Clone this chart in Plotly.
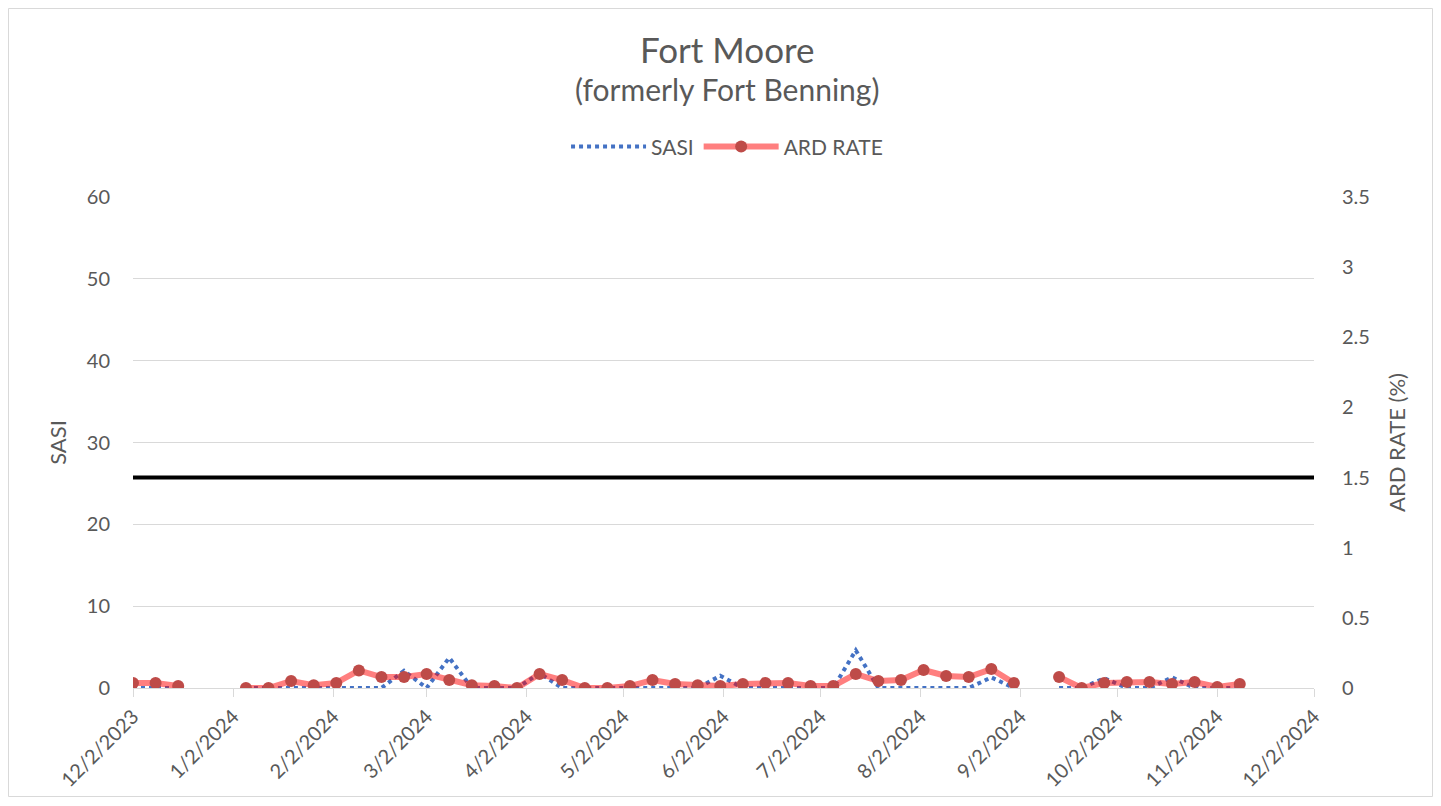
import plotly.graph_objects as go

# ---- data ----
dates = ["2023-12-02", "2023-12-09", "2023-12-16", "2023-12-23", "2023-12-30",
         "2024-01-06", "2024-01-13", "2024-01-20", "2024-01-27", "2024-02-03",
         "2024-02-10", "2024-02-17", "2024-02-24", "2024-03-02", "2024-03-09",
         "2024-03-16", "2024-03-23", "2024-03-30", "2024-04-06", "2024-04-13",
         "2024-04-20", "2024-04-27", "2024-05-04", "2024-05-11", "2024-05-18",
         "2024-05-25", "2024-06-01", "2024-06-08", "2024-06-15", "2024-06-22",
         "2024-06-29", "2024-07-06", "2024-07-13", "2024-07-20", "2024-07-27",
         "2024-08-03", "2024-08-10", "2024-08-17", "2024-08-24", "2024-08-31",
         "2024-09-07", "2024-09-14", "2024-09-21", "2024-09-28", "2024-10-05",
         "2024-10-12", "2024-10-19", "2024-10-26", "2024-11-02", "2024-11-09"]

sasi = [0, 0, 0, None, None,
        0, 0, 0, 0, 0,
        0, 0, 2.1, 0, 3.7,
        0, 0, 0, 1.8, 0,
        0, 0, 0, 0, 0,
        0, 1.5, 0, 0, 0,
        0, 0, 4.6, 0, 0,
        0, 0, 0, 1.3, 0,
        None, 0, 0, 1.2, 0,
        0, 1.3, 0, 0, 0]

ard_rate = [0.036, 0.036, 0.014, None, None,
            0, 0, 0.05, 0.02, 0.036,
            0.125, 0.078, 0.078, 0.1, 0.057,
            0.02, 0.014, 0, 0.1, 0.057,
            0, 0, 0.014, 0.057, 0.028,
            0.02, 0.014, 0.028, 0.036, 0.036,
            0.014, 0.014, 0.1, 0.05, 0.057,
            0.128, 0.086, 0.078, 0.135, 0.036,
            None, 0.078, 0, 0.036, 0.043,
            0.043, 0.028, 0.043, 0.007, 0.028]

ard_threshold = 1.5

tick_dates = ["2023-12-02", "2024-01-02", "2024-02-02", "2024-03-02", "2024-04-02",
              "2024-05-02", "2024-06-02", "2024-07-02", "2024-08-02", "2024-09-02",
              "2024-10-02", "2024-11-02", "2024-12-02"]
tick_labels = ["12/2/2023", "1/2/2024", "2/2/2024", "3/2/2024", "4/2/2024",
               "5/2/2024", "6/2/2024", "7/2/2024", "8/2/2024", "9/2/2024",
               "10/2/2024", "11/2/2024", "12/2/2024"]

title = "Fort Moore"
subtitle = "(formerly Fort Benning)"

# ---- figure ----
FONT = "Lato"
GREY = "#595959"
GRID = "#d9d9d9"

W, H = 1425, 790
L, T, PW, PH = 125, 189, 1181, 491

fig = go.Figure()

fig.add_trace(go.Scatter(
    x=dates, y=sasi, name="SASI", mode="lines", yaxis="y",
    line=dict(color="#4472C4", width=4, dash="4px,4px"),
    connectgaps=False,
))

fig.add_trace(go.Scatter(
    x=dates, y=ard_rate, name="ARD RATE", mode="lines+markers", yaxis="y2",
    line=dict(color="rgba(255,0,0,0.5)", width=6),
    marker=dict(color="#BE4B48", size=12),
    connectgaps=False,
))

# threshold line on ARD axis
fig.add_shape(type="line", xref="paper", x0=0, x1=1, yref="y2",
              y0=ard_threshold, y1=ard_threshold,
              line=dict(color="black", width=4))

# outer chart border
fig.add_shape(type="rect", xref="paper", yref="paper",
              x0=(0.5 - L) / PW, x1=(W - 0.5 - L) / PW,
              y0=(T + PH - H + 1.5) / PH, y1=(T + PH - 0.5) / PH,
              line=dict(color=GRID, width=1), layer="below")

fig.add_annotation(text=title, xref="paper", yref="paper", x=0.503, y=1.3015,
                   showarrow=False, yanchor="middle",
                   font=dict(family=FONT, size=35, color=GREY))
fig.add_annotation(text=subtitle, xref="paper", yref="paper", x=0.503, y=1.219,
                   showarrow=False, yanchor="middle",
                   font=dict(family=FONT, size=30, color=GREY))

fig.update_layout(
    width=W, height=H,
    margin=dict(l=L, r=W - L - PW, t=T, b=H - T - PH),
    paper_bgcolor="white", plot_bgcolor="white",
    font=dict(family=FONT, size=20, color=GREY),
    showlegend=True,
    legend=dict(orientation="h", x=0.503, xanchor="center", y=1.102, yanchor="middle",
                itemwidth=75,
                font=dict(family=FONT, size=21, color=GREY)),
    xaxis=dict(
        type="date", range=["2023-12-02", "2024-12-02"], automargin=False,
        tickvals=tick_dates, ticktext=tick_labels, tickangle=-45,
        showgrid=False, showline=True, linecolor=GRID, linewidth=1,
        ticks="outside", ticklen=8, tickcolor=GRID,
        tickfont=dict(family=FONT, size=20, color=GREY),
        zeroline=False,
    ),
    yaxis=dict(
        range=[0, 60], dtick=10, showgrid=True, gridcolor=GRID, gridwidth=1,
        zeroline=False, showline=False, ticks="", automargin=False,
        ticklabelstandoff=22,
        title=dict(text="SASI", font=dict(family=FONT, size=22, color=GREY), standoff=14),
        tickfont=dict(family=FONT, size=20, color=GREY),
    ),
    yaxis2=dict(
        range=[0, 3.5], dtick=0.5, overlaying="y", side="right", automargin=False,
        showgrid=False, zeroline=False, showline=False, ticks="",
        ticklabelstandoff=27,
        title=dict(text="ARD RATE (%)", font=dict(family=FONT, size=22, color=GREY), standoff=20),
        tickfont=dict(family=FONT, size=20, color=GREY),
    ),
)

fig.write_html("out.html")
